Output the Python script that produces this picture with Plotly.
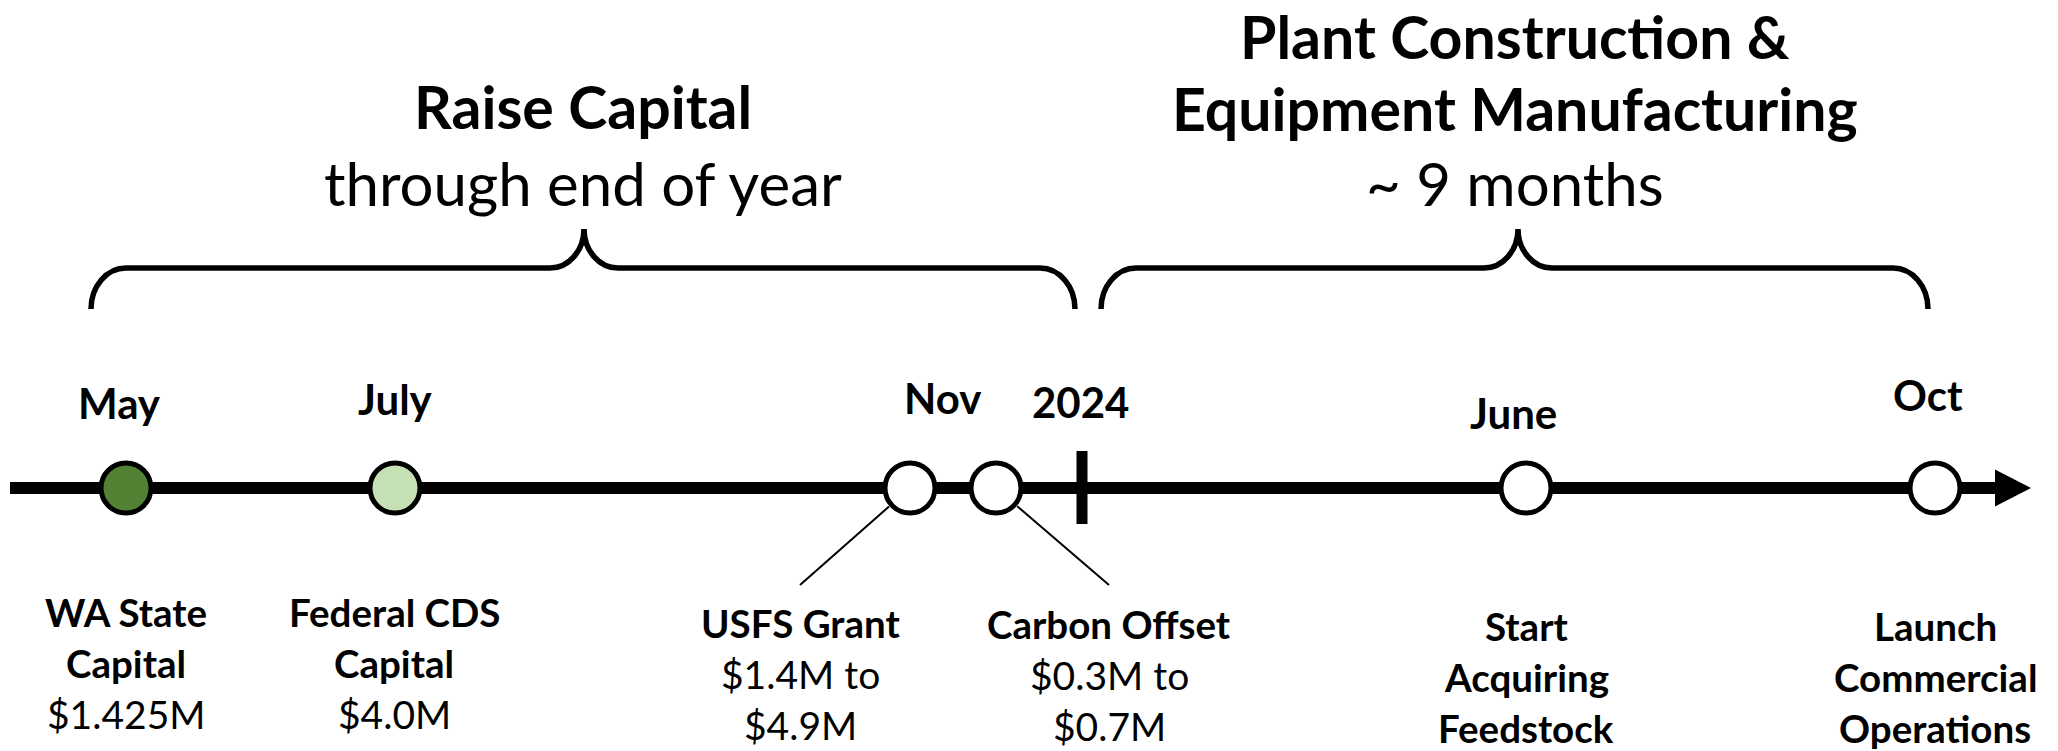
import math
import plotly.graph_objects as go

# ---------------- data ----------------
phase_titles = [["Raise Capital", "through end of year"],
                ["Plant Construction &", "Equipment Manufacturing", "~ 9 months"]]
phase_title_bold = [[True, False], [True, True, False]]

month_labels = ["May", "July", "Nov", "2024", "June", "Oct"]

event_names = [["WA State", "Capital"], ["Federal CDS", "Capital"], ["USFS Grant"],
               ["Carbon Offset"], ["Start", "Acquiring", "Feedstock"],
               ["Launch", "Commercial", "Operations"]]
event_amounts = [["$1.425M"], ["$4.0M"], ["$1.4M to", "$4.9M"], ["$0.3M to", "$0.7M"], [], []]
event_fill = ["#548235", "#C5E0B4", "#FFFFFF", "#FFFFFF", "#FFFFFF", "#FFFFFF"]
event_pos = [126, 395, 910, 996, 1526, 1935]      # position along the schematic timeline
year_marker_pos = 1082                              # start of 2024
connector_events = [2, 3]

# ---------------- layout constants ----------------
W, H = 2058, 751
FONT = "Lato"
LINE_Y = 488
LINE_X0, LINE_END = 10, 1997
TITLE_FS_B, TITLE_FS_R = 59, 60
MONTH_FS = 42
LABEL_FS_B, LABEL_FS_R = 38.5, 39
title_x = [583, 1515]
title_base = [[128, 205], [58, 130, 205]]
month_x = [119, 395, 942, 1080, 1513, 1928]
month_base = [418, 414, 413, 417, 428, 410]
label_x = [126, 394, 800, 1109, 1526, 1935]
label_base0 = [626, 626, 637, 638, 640, 640]
LABEL_STEP = 51
braces = [(91, 584, 1075), (1101, 1518, 1928)]
BR_TOP, BR_BOT, BR_TIP = 268, 309, 229
CONN_END_Y = 585


def text_ann(x, baseline, txt, fs, bold):
    return dict(x=x, y=baseline - 0.36 * fs, xref="x", yref="y", showarrow=False,
                xanchor="center", yanchor="middle",
                text=f"<b>{txt}</b>" if bold else txt,
                font=dict(family=FONT, size=fs, color="black"))


def brace_path(x0, xc, x1, yh=BR_TOP, yb=BR_BOT, yt=BR_TIP, rx=35, rc=34):
    k = 0.5523
    ry = yb - yh
    rt = yh - yt
    return (f"M {x0},{yb} C {x0},{yb - k*ry} {x0 + rx - k*rx},{yh} {x0 + rx},{yh} "
            f"L {xc - rc},{yh} C {xc - rc + k*rc},{yh} {xc},{yt + k*rt} {xc},{yt} "
            f"C {xc},{yt + k*rt} {xc + rc - k*rc},{yh} {xc + rc},{yh} "
            f"L {x1 - rx},{yh} C {x1 - rx + k*rx},{yh} {x1},{yb - k*ry} {x1},{yb}")


fig = go.Figure()

shapes = []
# main timeline
shapes.append(dict(type="line", xref="x", yref="y", x0=LINE_X0, x1=LINE_END, y0=LINE_Y, y1=LINE_Y,
                   line=dict(color="black", width=12), layer="below"))
shapes.append(dict(type="path", xref="x", yref="y",
                   path=f"M {LINE_END - 2},{LINE_Y - 18.5} L {LINE_END + 34},{LINE_Y} L {LINE_END - 2},{LINE_Y + 18.5} Z",
                   fillcolor="black", line=dict(color="black", width=0), layer="below"))
# year tick
shapes.append(dict(type="line", xref="x", yref="y", x0=year_marker_pos, x1=year_marker_pos,
                   y0=LINE_Y - 37, y1=LINE_Y + 36, line=dict(color="black", width=11), layer="below"))
# braces
for (x0, xc, x1) in braces:
    shapes.append(dict(type="path", xref="x", yref="y", path=brace_path(x0, xc, x1),
                       line=dict(color="black", width=5.5)))
# connectors
for i in connector_events:
    cx, cy = event_pos[i], LINE_Y
    ex, ey = label_x[i], CONN_END_Y
    d = math.hypot(ex - cx, ey - cy)
    sx, sy = cx + 28 * (ex - cx) / d, cy + 28 * (ey - cy) / d
    shapes.append(dict(type="line", xref="x", yref="y", x0=sx, y0=sy, x1=ex, y1=ey,
                       line=dict(color="black", width=2), layer="below"))

fig.add_trace(go.Scatter(
    x=event_pos, y=[LINE_Y] * len(event_pos), mode="markers",
    marker=dict(size=50, color=event_fill, line=dict(color="black", width=5)),
    hoverinfo="skip", showlegend=False))

anns = []
for t, lines in enumerate(phase_titles):
    for j, line in enumerate(lines):
        b = phase_title_bold[t][j]
        anns.append(text_ann(title_x[t], title_base[t][j], line, TITLE_FS_B if b else TITLE_FS_R, b))
for i, m in enumerate(month_labels):
    anns.append(text_ann(month_x[i], month_base[i], m, MONTH_FS, True))
for i in range(len(event_names)):
    lines = [(s, True) for s in event_names[i]] + [(s, False) for s in event_amounts[i]]
    for j, (s, b) in enumerate(lines):
        anns.append(text_ann(label_x[i], label_base0[i] + j * LABEL_STEP, s,
                             LABEL_FS_B if b else LABEL_FS_R, b))

fig.update_layout(
    width=W, height=H, margin=dict(l=0, r=0, t=0, b=0),
    paper_bgcolor="white", plot_bgcolor="white",
    xaxis=dict(range=[0, W], visible=False, fixedrange=True),
    yaxis=dict(range=[H, 0], visible=False, fixedrange=True),
    shapes=shapes, annotations=anns, showlegend=False,
)

fig.write_html("out.html", config={"displayModeBar": False},
               post_script="document.body.style.margin='0';document.body.style.overflow='hidden';")
